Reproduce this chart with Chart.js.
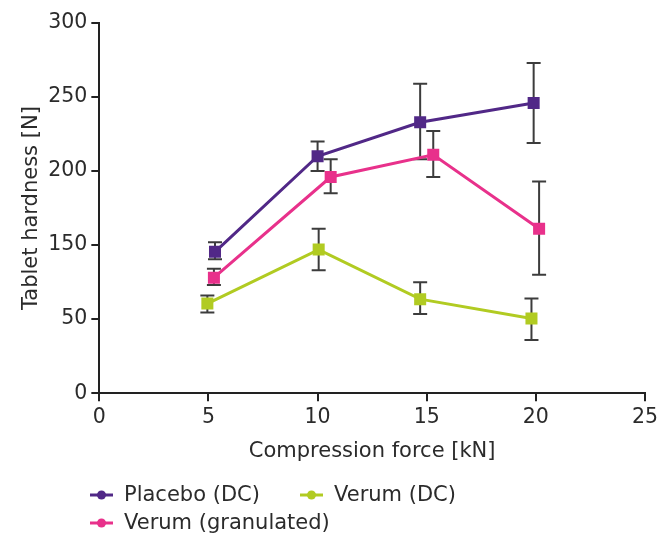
<!DOCTYPE html>
<html>
<head>
<meta charset="utf-8">
<script src="https://cdn.jsdelivr.net/npm/chart.js@4"></script>
<style>
  html, body { margin: 0; padding: 0; background: #fff; }
  #wrap { width: 662px; height: 533px; }
</style>
</head>
<body>
<div id="wrap"><canvas id="hardnessChart" width="662" height="533"></canvas></div>
<script>
// values
const yTickValues = [0, 50, 150, 200, 250, 300];   // axis has a gap: 100 is not shown
const xTickMax = 25;

const placeboForce = [5.3, 10.0, 14.7, 19.9];
const placeboHardness = [141, 210, 233, 246];
const placeboLow = [131, 200, 208, 219];
const placeboHigh = [152, 220, 259, 273];

const granForce = [5.25, 10.6, 15.3, 20.15];
const granHardness = [106, 196, 211, 161];
const granLow = [96, 185, 196, 110];
const granHigh = [118, 208, 227, 193];

const dcForce = [4.95, 10.05, 14.7, 19.8];
const dcHardness = [71, 144, 77, 51];
const dcLow = [59, 116, 57, 36];
const dcHigh = [82, 161, 100, 78];

const FONT = 'DejaVu Sans';
const TEXT = '#2b2b2b';

// y axis with unequal spacing between ticks (every tick interval gets the same height)
class BrokenLinearScale extends Chart.LinearScale {
    static id = 'brokenLinear';
    static defaults = Chart.LinearScale.defaults;

    buildTicks() {
        return yTickValues.map(v => ({ value: v }));
    }

    toPos(v) {
        const t = yTickValues;
        if (v <= t[0]) return 0;
        for (let i = 0; i < t.length - 1; i++) {
            if (v <= t[i + 1]) return i + (v - t[i]) / (t[i + 1] - t[i]);
        }
        return t.length - 1;
    }

    getPixelForValue(value) {
        if (value === null || value === undefined) return NaN;
        return this.getPixelForDecimal(this.toPos(value) / (yTickValues.length - 1));
    }

    getValueForPixel(pixel) {
        const t = yTickValues;
        const pos = this.getDecimalForPixel(pixel) * (t.length - 1);
        const i = Math.max(0, Math.min(t.length - 2, Math.floor(pos)));
        return t[i] + (pos - i) * (t[i + 1] - t[i]);
    }
}
Chart.register(BrokenLinearScale);

function points(xs, ys) {
    return xs.map((x, i) => ({ x: x, y: ys[i] }));
}

const series = [
    { label: 'Placebo (DC)', color: '#512887', force: placeboForce, hardness: placeboHardness, low: placeboLow, high: placeboHigh },
    { label: 'Verum (granulated)', color: '#e8318b', force: granForce, hardness: granHardness, low: granLow, high: granHigh },
    { label: 'Verum (DC)', color: '#b1cb22', force: dcForce, hardness: dcHardness, low: dcLow, high: dcHigh }
];

// error bars, drawn under the markers
const errorBars = {
    id: 'errorBars',
    beforeDatasetsDraw(chart) {
        const ctx = chart.ctx;
        const xs = chart.scales.x, ys = chart.scales.y;
        ctx.save();
        ctx.strokeStyle = '#3c3c3c';
        ctx.lineWidth = 2;
        series.forEach(s => {
            s.force.forEach((f, i) => {
                const px = xs.getPixelForValue(f);
                const top = ys.getPixelForValue(s.high[i]);
                const bottom = ys.getPixelForValue(s.low[i]);
                ctx.beginPath();
                ctx.moveTo(px, top); ctx.lineTo(px, bottom);
                ctx.moveTo(px - 7, top); ctx.lineTo(px + 7, top);
                ctx.moveTo(px - 7, bottom); ctx.lineTo(px + 7, bottom);
                ctx.stroke();
            });
        });
        ctx.restore();
    }
};

// legend in two columns, left aligned under the axis title
const sideLegend = {
    id: 'sideLegend',
    afterDraw(chart) {
        const ctx = chart.ctx;
        const place = [
            { col: 0, row: 0 },   // Placebo (DC)
            { col: 0, row: 1 },   // Verum (granulated)
            { col: 1, row: 0 }    // Verum (DC)
        ];
        ctx.save();
        ctx.font = '21px "' + FONT + '"';
        ctx.textBaseline = 'middle';
        series.forEach((s, i) => {
            const x = 90 + place[i].col * 210;
            const y = 495 + place[i].row * 28;
            ctx.strokeStyle = s.color;
            ctx.lineWidth = 3;
            ctx.beginPath();
            ctx.moveTo(x, y); ctx.lineTo(x + 23, y);
            ctx.stroke();
            ctx.fillStyle = s.color;
            ctx.beginPath();
            ctx.arc(x + 11.5, y, 4.5, 0, Math.PI * 2);
            ctx.fill();
            ctx.fillStyle = TEXT;
            ctx.fillText(s.label, x + 34, y + 1);
        });
        ctx.restore();
    }
};

const axisStyle = {
    grid: { display: true, drawOnChartArea: false, drawTicks: true, tickLength: 8, color: '#222', lineWidth: 2 },
    border: { display: true, color: '#222', width: 2 },
    ticks: { color: TEXT, font: { family: FONT, size: 20.5 }, padding: 4 }
};

new Chart(document.getElementById('hardnessChart'), {
    type: 'line',
    data: {
        datasets: series.map(s => ({
            label: s.label,
            data: points(s.force, s.hardness),
            borderColor: s.color,
            backgroundColor: s.color,
            borderWidth: 3,
            pointStyle: 'rect',
            pointRadius: 8.5,
            pointBorderWidth: 0,
            fill: false,
            tension: 0
        }))
    },
    options: {
        responsive: false,
        animation: false,
        layout: { padding: { top: 23, right: 0, bottom: 69, left: 19 } },
        plugins: {
            legend: { display: false },
            tooltip: { enabled: false }
        },
        scales: {
            x: {
                type: 'linear',
                min: 0,
                max: xTickMax,
                grid: axisStyle.grid,
                border: axisStyle.border,
                ticks: Object.assign({}, axisStyle.ticks, { stepSize: 5, padding: 4 }),
                title: { display: true, text: 'Compression force [kN]', color: TEXT, font: { family: FONT, size: 21 }, padding: { top: 5, bottom: 0 } }
            },
            y: {
                type: 'brokenLinear',
                min: 0,
                max: 300,
                grid: axisStyle.grid,
                border: axisStyle.border,
                ticks: Object.assign({}, axisStyle.ticks, { callback: v => String(v) }),
                title: { display: true, text: 'Tablet hardness [N]', color: TEXT, font: { family: FONT, size: 21 }, padding: { top: 0, bottom: 0 } }
            }
        }
    },
    plugins: [errorBars, sideLegend]
});
</script>
</body>
</html>
